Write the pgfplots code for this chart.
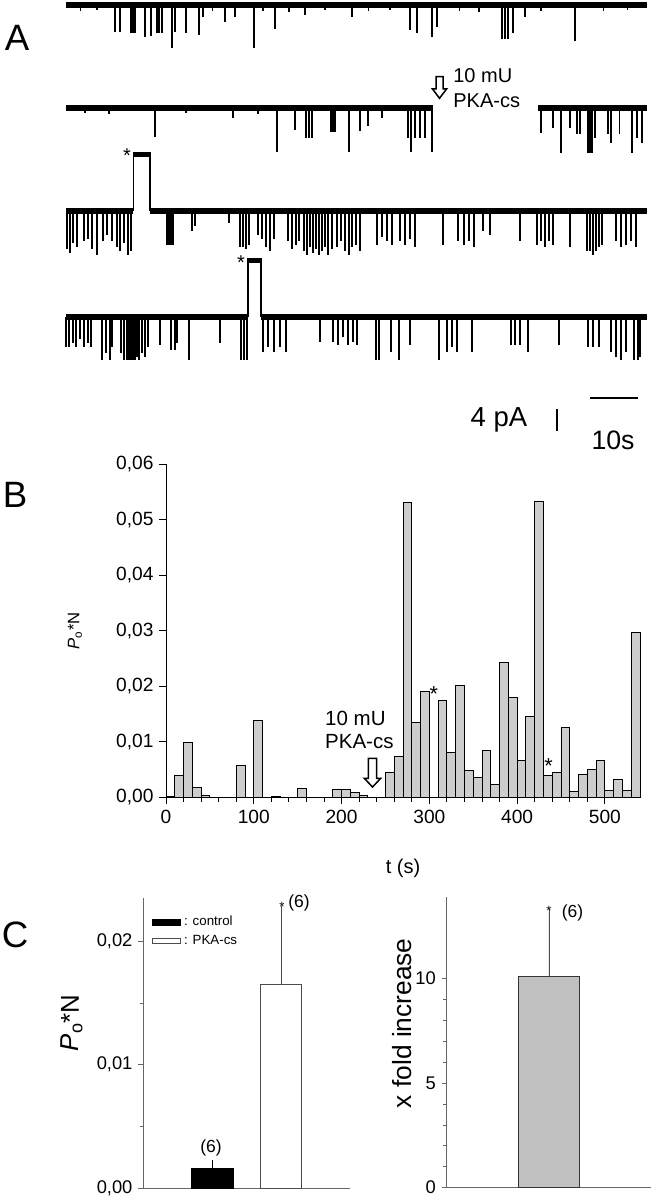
\documentclass[border=0pt]{standalone}
\usepackage{fontspec}
\setmainfont{Liberation Sans}
\usepackage{pgfplots}
\usepackage{pgfplotstable}
\pgfplotsset{compat=1.18}

\definecolor{BarGray} {RGB}{205,205,205}
\definecolor{FoldGray}{RGB}{192,192,192}

\pgfplotsset{
  /pgf/number format/assume math mode=true,
  trace/.style={hide axis, scale only axis, width=348.5pt, height=69pt,
    xmin=0, xmax=121, ymin=-10, ymax=13, clip=false, anchor=origin},
  base/.style={black, line width=3.3pt, mark=none},
  spike/.style={ycomb, black, line width=1.0pt, mark=none},
  commanum/.style={/pgf/number format/.cd, fixed, fixed zerofill, precision=2, use comma},
  panelC/.style={anchor=south west, scale only axis,
    axis x line*=bottom, axis y line*=left,
    axis line style={black!60, line width=0.4pt},
    tick style={black!60, line width=0.4pt},
    tick align=outside, major tick length=3pt, minor tick length=2pt,
    xtick=\empty, scaled y ticks=false,
    tick label style={font=\fontsize{11}{13}\selectfont},
    ybar, bar shift=0pt, bar width=0.6},
}

% single channel traces, t in s, current in pA (openings downward)
\pgfplotstableread{
t d
3 -1.2
6.5 -1.0
10.2 -5.4
11.3 -5.4
13.5 -5.6
14.0 -5.6
14.4 -5.6
16.5 -6.4
17.7 -6.2
19.0 -5.6
19.4 -5.6
20.0 -5.6
22.1 -8.6
22.7 -5.4
25.0 -5.6
27.7 -6.0
28.5 -2.4
30.5 -1.2
33.1 -3.4
35.2 -2.4
39.2 -8.6
41.0 -1.2
43.5 -4.8
46.5 -1.4
49.8 -2.0
54.0 -1.0
59.6 -2.4
63.0 -1.2
67.5 -1.0
71.7 -5.0
73.1 -5.6
76.3 -6.4
77.3 -4.4
82.0 -1.2
86.0 -1.4
90.8 -6.8
91.5 -6.8
92.1 -6.8
93.1 -5.6
95.6 -2.4
99.0 -1.2
106.0 -7.2
112.0 -1.2
117.0 -1.0
}\traceA

\pgfplotstableread{
t d
4 -1.0
9 -1.2
18.5 -5.8
25 -1.0
34.8 -2.0
40 -1.2
43.9 -8.8
47.7 -4.4
50.0 -6.0
50.6 -6.0
51.3 -6.0
55.2 -4.8
55.6 -4.8
56.0 -4.8
59.0 -8.8
61.3 -4.6
62.9 -3.6
65.8 -2.0
71.3 -6.0
71.9 -8.8
72.7 -6.0
73.8 -6.0
74.8 -6.0
76.2 -8.8
99.0 -5.0
101.5 -4.0
103.1 -9.0
105.0 -4.0
106.5 -5.2
107.1 -5.2
108.8 -9.0
109.2 -9.0
109.6 -9.0
110.2 -6.0
112.9 -5.2
113.5 -7.0
115.3 -5.2
117.9 -9.0
119.0 -6.0
120.0 -7.0
}\traceB

\pgfplotstableread{
t d
0.2 -7.6
0.8 -8.4
1.5 -6.4
2.3 -7.2
3.8 -6.0
4.6 -5.6
5.4 -7.6
6.5 -8.8
7.7 -6.0
8.5 -4.8
9.6 -6.0
10.6 -7.2
11.3 -8.0
12.1 -6.4
12.9 -8.8
13.5 -8.0
21.0 -6.8
21.5 -6.8
21.9 -6.8
22.3 -6.8
26.3 -4.0
26.9 -3.0
34.0 -2.4
36.3 -7.2
36.9 -7.2
37.5 -7.6
38.1 -6.8
40.0 -4.8
40.8 -5.6
41.7 -7.2
42.5 -8.0
43.3 -5.6
46.3 -6.0
47.1 -7.6
47.9 -6.8
48.5 -6.0
49.6 -8.0
50.2 -8.8
50.8 -7.2
51.5 -8.4
52.1 -7.6
52.7 -8.8
53.3 -8.0
54.0 -7.2
54.6 -8.8
55.4 -7.6
56.5 -7.2
57.3 -6.0
58.1 -8.0
59.0 -8.8
59.6 -7.2
60.4 -6.8
61.3 -8.0
64.8 -6.8
65.8 -5.2
66.9 -6.0
67.9 -6.8
69.6 -6.0
70.6 -6.8
71.7 -5.6
72.7 -7.2
78.5 -6.8
81.7 -6.0
82.9 -6.8
84.0 -6.0
85.0 -7.2
86.9 -4.0
88.3 -4.8
94.6 -6.0
98.1 -6.8
99.0 -6.0
99.8 -7.2
100.6 -6.0
101.5 -6.8
105.0 -7.2
108.5 -8.0
109.2 -8.0
109.8 -8.8
110.4 -8.0
111.0 -7.2
111.7 -6.8
114.6 -6.0
115.6 -7.2
116.7 -6.8
117.7 -6.0
118.8 -7.2
}\traceC

\pgfplotstableread{
t d
0.0 -6.0
0.6 -6.0
1.5 -5.2
2.1 -6.0
2.9 -4.4
3.8 -6.0
4.6 -5.2
5.2 -6.0
7.5 -8.6
8.3 -7.2
9.2 -8.6
9.6 -6.0
11.5 -7.2
12.1 -8.6
12.7 -8.6
13.1 -8.6
13.5 -8.6
14.0 -8.6
14.4 -8.6
14.8 -8.0
15.2 -8.6
15.8 -7.2
16.5 -8.0
17.1 -6.0
19.6 -5.6
21.9 -6.6
22.7 -6.6
23.1 -5.2
25.6 -8.6
32.1 -5.2
36.5 -8.6
37.1 -8.6
37.7 -8.6
41.0 -7.0
42.1 -6.0
43.3 -7.0
44.6 -6.0
45.8 -7.0
52.9 -5.0
55.6 -5.0
56.7 -5.6
57.7 -4.0
58.8 -5.6
59.8 -5.0
60.6 -5.6
64.6 -8.6
65.2 -8.6
67.7 -7.0
69.4 -8.6
71.7 -5.6
77.7 -8.6
79.4 -7.0
80.4 -6.0
81.5 -7.0
84.6 -7.0
92.7 -5.6
93.5 -5.6
94.6 -5.6
96.3 -7.0
102.7 -5.6
108.8 -6.0
109.8 -6.0
111.0 -6.0
113.5 -7.0
114.6 -8.0
115.6 -8.6
116.7 -7.0
118.3 -8.6
119.2 -8.6
119.6 -8.0
}\traceD

% Po*N in 10 s bins (bin centres)
\pgfplotstableread{
t p
5 0.0002
15 0.0039
25 0.0098
35 0.0017
45 0.0003
55 0
65 0
75 0
85 0.0058
95 0
105 0.0138
115 0
125 0.0001
135 0
145 0
155 0.0016
165 0
175 0
185 0
195 0.0014
205 0.0015
215 0.0008
225 0.0004
235 0
245 0
255 0.0044
265 0.0074
275 0.0531
285 0.0135
295 0.0190
305 0
315 0.0175
325 0.0080
335 0.0201
345 0.0048
355 0.0036
365 0.0085
375 0.0023
385 0.0243
395 0.0180
405 0.0066
415 0.0146
425 0.0533
435 0.0040
445 0.0045
455 0.0126
465 0.0010
475 0.0041
485 0.0051
495 0.0067
505 0.0013
515 0.0033
525 0.0012
535 0.0297
}\pon

\begin{document}
\begin{tikzpicture}
\path[use as bounding box] (0,0) rectangle (391.2pt,-719.4pt);

% ---- A: traces
\begin{axis}[trace, at={(39.6pt,-3pt)}]
\addplot[base] coordinates {(0,0) (121,0)};
\addplot[spike] table[x=t,y=d] {\traceA};
\end{axis}

\begin{axis}[trace, at={(39.6pt,-64.8pt)}]
\addplot[base] coordinates {(0,0) (76.5,0)};
\addplot[base] coordinates {(98.3,0) (121,0)};
\addplot[spike] table[x=t,y=d] {\traceB};
\end{axis}

\begin{axis}[trace, at={(39.6pt,-126.6pt)}]
\addplot[base] coordinates {(0,0) (14.0,0)};
\addplot[base] coordinates {(17.5,0) (121,0)};
\addplot[black, line width=0.8pt] coordinates {(14.0,0) (14.0,11.6) (17.5,11.6) (17.5,0)};
\addplot[black, line width=2.2pt] coordinates {(14.0,11.1) (17.5,11.1)};
\addplot[spike] table[x=t,y=d] {\traceC};
\end{axis}

\begin{axis}[trace, at={(39.6pt,-190.2pt)}]
\addplot[base] coordinates {(0,0) (37.9,0)};
\addplot[base] coordinates {(40.6,0) (121,0)};
\addplot[black, line width=0.8pt] coordinates {(37.9,0) (37.9,11.6) (40.6,11.6) (40.6,0)};
\addplot[black, line width=2.2pt] coordinates {(37.9,11.1) (40.6,11.1)};
\addplot[spike] table[x=t,y=d] {\traceD};
\end{axis}

% ---- B: Po*N histogram
\begin{axis}[
  at={(99.6pt,-478.4pt)}, anchor=south west,
  scale only axis, width=284.4pt, height=200pt,
  xmin=0, xmax=540, ymin=0, ymax=0.06,
  axis x line*=bottom, axis y line*=left,
  axis line style={black, line width=0.6pt},
  tick style={black, line width=0.6pt},
  tick align=outside, major tick length=4pt, minor tick length=2.5pt,
  xtick={0,100,200,300,400,500}, minor x tick num=4,
  ytick={0,0.01,0.02,0.03,0.04,0.05,0.06},
  scaled y ticks=false,
  yticklabel style={commanum},
  tick label style={font=\fontsize{11.5}{13}\selectfont},
  xlabel={t (s)},
  xlabel style={at={(axis description cs:0.5,-0.212)}, anchor=center, font=\fontsize{12}{14}\selectfont},
  ylabel={\textit{P}\textsubscript{o}*N},
  ylabel style={at={(axis description cs:-0.192,0.5)}, anchor=center, font=\fontsize{10}{12}\selectfont},
  ybar, bar width=10, bar shift=0pt,
  clip=false,
]
\addplot[fill=BarGray, draw=black, line width=0.5pt] table[x=t,y=p] {\pon};
\node[font=\fontsize{13}{13}\selectfont, inner sep=0pt, yshift=-0.21em] at (axis cs:305,0.0193) {*};
\node[font=\fontsize{13}{13}\selectfont, inner sep=0pt, yshift=-0.21em] at (axis cs:436,0.0062) {*};
\node[anchor=base west, inner sep=0pt, font=\fontsize{12.3}{14}\selectfont] at (axis cs:181,0.0130) {10 mU};
\node[anchor=base west, inner sep=0pt, font=\fontsize{12.3}{14}\selectfont] at (axis cs:181,0.0088) {PKA-cs};
\end{axis}

% ---- C left: Po*N control vs PKA-cs
\begin{axis}[panelC,
  at={(86pt,-713pt)}, width=124pt, height=174.3pt,
  xmin=0, xmax=3, ymin=0, ymax=0.0235,
  ytick={0,0.01,0.02}, minor y tick num=1,
  yticklabel style={commanum},
  ylabel={\textit{P}\textsubscript{o}*N},
  ylabel style={at={(axis description cs:-0.346,0.57)}, anchor=center, font=\fontsize{15.5}{17}\selectfont},
  legend style={draw=none, fill=none, at={(0.03,0.955)}, anchor=north west,
    font=\fontsize{8}{9.5}\selectfont, inner sep=1pt},
  legend image code/.code={\draw[#1] (0pt,-1.6pt) rectangle (17pt,1.6pt);},
  legend cell align=left,
]
\addplot[fill=black, draw=black,
  error bars/.cd, y dir=plus, y explicit,
  error bar style={black, line width=0.4pt},
  error mark options={black, line width=0.4pt, mark size=2pt}]
  coordinates {(1,0.00159) +- (0,0.00040)};
\addlegendentry{: control}
\addplot[fill=white, draw=black!70, line width=0.5pt,
  error bars/.cd, y dir=plus, y explicit,
  error bar style={black!70, line width=0.4pt},
  error mark options={black!70, line width=0.4pt, mark size=1.5pt}]
  coordinates {(2,0.0165) +- (0,0.0061)};
\addlegendentry{: PKA-cs}
\end{axis}

% ---- C right: fold increase
\begin{axis}[panelC,
  at={(268pt,-712.6pt)}, width=122.6pt, height=174.6pt,
  xmin=0, xmax=2, ymin=0, ymax=13.9,
  ytick={0,5,10}, minor y tick num=4,
  ylabel={x fold increase},
  ylabel style={at={(axis description cs:-0.22,0.565)}, anchor=center, font=\fontsize{15.8}{17}\selectfont},
]
\addplot[fill=FoldGray, draw=black!80, line width=0.5pt,
  error bars/.cd, y dir=plus, y explicit,
  error bar style={black!70, line width=0.4pt},
  error mark options={black!70, line width=0.4pt, mark size=1.5pt}]
  coordinates {(1,10.08) +- (0,3.1)};
\end{axis}

% ---- annotations in picture pixels
\begin{scope}[x=0.6pt, y=-0.6pt]
  \node[font=\fontsize{22}{22}\selectfont] at (17,38) {A};
  \node[font=\fontsize{22}{22}\selectfont] at (15,495) {B};
  \node[font=\fontsize{22}{22}\selectfont] at (15,935) {C};
  % PKA addition in trace 2
  \draw[black, line width=0.9pt, fill=white]
    (436,76.7)--(443,76.7)--(443,89)--(446.5,89)--(439.5,98.3)--(432.5,89)--(436,89)--cycle;
  \node[anchor=base west, inner sep=0pt, font=\fontsize{12}{14}\selectfont] at (453,83) {10 mU};
  \node[anchor=base west, inner sep=0pt, font=\fontsize{12}{14}\selectfont] at (453,108) {PKA-cs};
  \node[font=\fontsize{12}{12}\selectfont, inner sep=0pt, yshift=-0.21em] at (127,152) {*};
  \node[font=\fontsize{12}{12}\selectfont, inner sep=0pt, yshift=-0.21em] at (241,259) {*};
  % scale bars
  \node[font=\fontsize{16.5}{16.5}\selectfont] at (499,420) {4 pA};
  \draw[line width=0.8pt] (557,409)--(557,431);
  \draw[line width=0.8pt] (590,398)--(638,398);
  \node[font=\fontsize{16}{16}\selectfont] at (613,440) {10s};
  % PKA addition in histogram
  \draw[black, line width=0.9pt, fill=white]
    (368.3,758.3)--(376.7,758.3)--(376.7,778.3)--(380.7,778.3)--(372.5,787)--(364.3,778.3)--(368.3,778.3)--cycle;
  % n and significance
  \node[font=\fontsize{10.5}{12}\selectfont] at (211,1148) {(6)};
  \node[font=\fontsize{8}{8}\selectfont, inner sep=0pt, yshift=-0.21em] at (282,903) {*};
  \node[font=\fontsize{10.5}{12}\selectfont] at (299,902.5) {(6)};
  \node[font=\fontsize{8}{8}\selectfont, inner sep=0pt, yshift=-0.21em] at (549,907) {*};
  \node[font=\fontsize{10.5}{12}\selectfont] at (572.5,912.5) {(6)};
\end{scope}
\end{tikzpicture}
\end{document}
